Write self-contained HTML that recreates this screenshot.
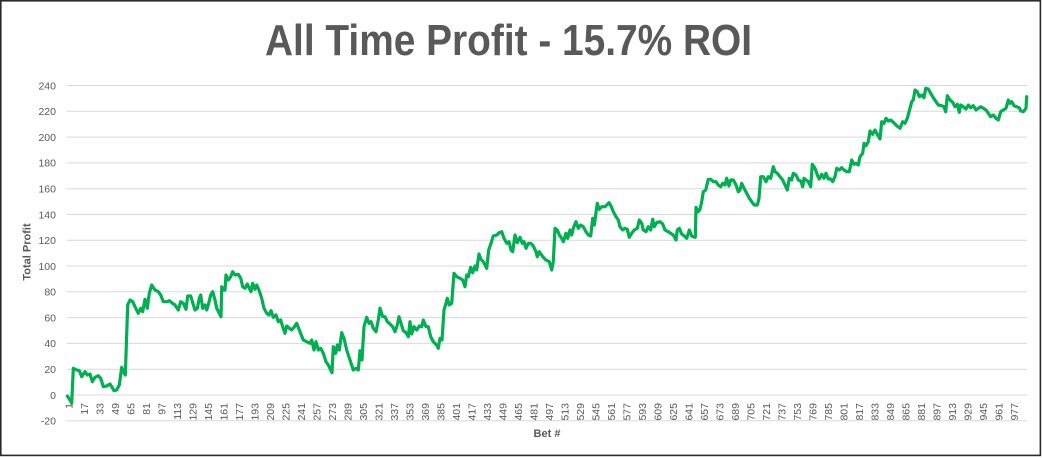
<!DOCTYPE html>
<html>
<head>
<meta charset="utf-8">
<style>
html,body{margin:0;padding:0;background:#fff;}
svg{display:block;}
</style>
</head>
<body>
<svg width="1042" height="458" viewBox="0 0 1042 458" xmlns="http://www.w3.org/2000/svg">
<rect x="0" y="0" width="1042" height="458" fill="#fff"/>
<rect x="0.8" y="0.8" width="1039.6" height="454.6" fill="none" stroke="#2b2b2b" stroke-width="1.6"/>

<text x="265" y="55" font-family="'Liberation Sans', sans-serif" font-weight="bold" font-size="44" fill="#595959" textLength="487" lengthAdjust="spacingAndGlyphs">All Time Profit - 15.7% ROI</text>

<g stroke="#D9D9D9" stroke-width="1">
<line x1="66.7" x2="1027" y1="85.5" y2="85.5"/>
<line x1="66.7" x2="1027" y1="111.3" y2="111.3"/>
<line x1="66.7" x2="1027" y1="137.1" y2="137.1"/>
<line x1="66.7" x2="1027" y1="162.9" y2="162.9"/>
<line x1="66.7" x2="1027" y1="188.7" y2="188.7"/>
<line x1="66.7" x2="1027" y1="214.5" y2="214.5"/>
<line x1="66.7" x2="1027" y1="240.2" y2="240.2"/>
<line x1="66.7" x2="1027" y1="266.0" y2="266.0"/>
<line x1="66.7" x2="1027" y1="291.8" y2="291.8"/>
<line x1="66.7" x2="1027" y1="317.6" y2="317.6"/>
<line x1="66.7" x2="1027" y1="343.4" y2="343.4"/>
<line x1="66.7" x2="1027" y1="369.2" y2="369.2"/>
<line x1="66.7" x2="1027" y1="395.0" y2="395.0"/>
<line x1="66.7" x2="1027" y1="420.8" y2="420.8"/>
</g>

<g font-family="'Liberation Sans', sans-serif" font-size="10.5" fill="#595959" text-anchor="end">
<text x="56" y="89.3">240</text>
<text x="56" y="115.1">220</text>
<text x="56" y="140.9">200</text>
<text x="56" y="166.7">180</text>
<text x="56" y="192.5">160</text>
<text x="56" y="218.3">140</text>
<text x="56" y="244.0">120</text>
<text x="56" y="269.8">100</text>
<text x="56" y="295.6">80</text>
<text x="56" y="321.4">60</text>
<text x="56" y="347.2">40</text>
<text x="56" y="373.0">20</text>
<text x="56" y="398.8">0</text>
<text x="56" y="424.6">-20</text>
</g>

<text transform="translate(30.5,252) rotate(-90)" text-anchor="middle" font-family="'Liberation Sans', sans-serif" font-weight="bold" font-size="11" fill="#595959">Total Profit</text>
<text x="547" y="437" text-anchor="middle" font-family="'Liberation Sans', sans-serif" font-weight="bold" font-size="11" fill="#595959">Bet #</text>

<g font-family="'Liberation Sans', sans-serif" font-size="10.5" fill="#595959" text-anchor="end" dominant-baseline="central">
<text transform="translate(69.5,403) rotate(-90)">1</text>
<text transform="translate(85,403) rotate(-90)">17</text>
<text transform="translate(100.5,403) rotate(-90)">33</text>
<text transform="translate(116,403) rotate(-90)">49</text>
<text transform="translate(131.5,403) rotate(-90)">65</text>
<text transform="translate(147,403) rotate(-90)">81</text>
<text transform="translate(162.5,403) rotate(-90)">97</text>
<text transform="translate(178,403) rotate(-90)">113</text>
<text transform="translate(193.5,403) rotate(-90)">129</text>
<text transform="translate(209,403) rotate(-90)">145</text>
<text transform="translate(224.5,403) rotate(-90)">161</text>
<text transform="translate(240,403) rotate(-90)">177</text>
<text transform="translate(255.5,403) rotate(-90)">193</text>
<text transform="translate(271,403) rotate(-90)">209</text>
<text transform="translate(286.5,403) rotate(-90)">225</text>
<text transform="translate(302,403) rotate(-90)">241</text>
<text transform="translate(317.5,403) rotate(-90)">257</text>
<text transform="translate(333,403) rotate(-90)">273</text>
<text transform="translate(348.5,403) rotate(-90)">289</text>
<text transform="translate(364,403) rotate(-90)">305</text>
<text transform="translate(379.5,403) rotate(-90)">321</text>
<text transform="translate(395,403) rotate(-90)">337</text>
<text transform="translate(410.5,403) rotate(-90)">353</text>
<text transform="translate(426,403) rotate(-90)">369</text>
<text transform="translate(441.5,403) rotate(-90)">385</text>
<text transform="translate(457,403) rotate(-90)">401</text>
<text transform="translate(472.5,403) rotate(-90)">417</text>
<text transform="translate(488,403) rotate(-90)">433</text>
<text transform="translate(503.5,403) rotate(-90)">449</text>
<text transform="translate(519,403) rotate(-90)">465</text>
<text transform="translate(534.5,403) rotate(-90)">481</text>
<text transform="translate(550,403) rotate(-90)">497</text>
<text transform="translate(565.5,403) rotate(-90)">513</text>
<text transform="translate(581,403) rotate(-90)">529</text>
<text transform="translate(596.5,403) rotate(-90)">545</text>
<text transform="translate(612,403) rotate(-90)">561</text>
<text transform="translate(627.5,403) rotate(-90)">577</text>
<text transform="translate(643,403) rotate(-90)">593</text>
<text transform="translate(658.5,403) rotate(-90)">609</text>
<text transform="translate(674,403) rotate(-90)">625</text>
<text transform="translate(689.5,403) rotate(-90)">641</text>
<text transform="translate(705,403) rotate(-90)">657</text>
<text transform="translate(720.5,403) rotate(-90)">673</text>
<text transform="translate(736,403) rotate(-90)">689</text>
<text transform="translate(751.5,403) rotate(-90)">705</text>
<text transform="translate(767,403) rotate(-90)">721</text>
<text transform="translate(782.5,403) rotate(-90)">737</text>
<text transform="translate(798,403) rotate(-90)">753</text>
<text transform="translate(813.5,403) rotate(-90)">769</text>
<text transform="translate(829,403) rotate(-90)">785</text>
<text transform="translate(844.5,403) rotate(-90)">801</text>
<text transform="translate(860,403) rotate(-90)">817</text>
<text transform="translate(875.5,403) rotate(-90)">833</text>
<text transform="translate(891,403) rotate(-90)">849</text>
<text transform="translate(906.5,403) rotate(-90)">865</text>
<text transform="translate(922,403) rotate(-90)">881</text>
<text transform="translate(937.5,403) rotate(-90)">897</text>
<text transform="translate(953,403) rotate(-90)">913</text>
<text transform="translate(968.5,403) rotate(-90)">929</text>
<text transform="translate(984,403) rotate(-90)">945</text>
<text transform="translate(999.5,403) rotate(-90)">961</text>
<text transform="translate(1015,403) rotate(-90)">977</text>
</g>

<polyline fill="none" stroke="#00B050" stroke-width="3.2" stroke-linejoin="round" stroke-linecap="round" points="
67.3,396 70,400 71.7,403.3 73.3,368.3 76.7,370 79.3,370.7 81.7,376.7 85,371.7 87.3,375 90,374 92.3,381.7 95,377.3 98.3,375.7 100.7,378.3 103.3,386.7 106.7,386 110,384 111.7,386.7 114,390.7 116.7,390 119.3,385 121.7,367.3 123.3,371.7 125.3,375 127.7,305 130,300 132.7,301.7 135,306.7 138.3,313.3 140.7,308.3 142.7,311.7 145,299.3 147.3,308.3 149.3,293.3 151.7,285 155,290 158.3,291.7 160.7,295 163.3,301.7 166.7,301.7 169.3,300.7 171.7,302.7 175,305 178.3,310 180.7,301.7 183.3,303.3 186,309.3 187.7,296 190.7,296 192.7,302.7 195,310 197.3,308.3 199.3,298.3 200.7,295 202.7,308.3 205,305 206.7,310 208.7,303.3 210.7,295 212.7,291.7 215,300 216.7,308.3 219.3,313.3 221,316.7 221.7,286.7 223.3,290 225,290 226,275 228.3,280 230.7,276.7 232.7,271.7 235,275 238.3,274.3 240.7,278.3 242.7,286.7 245,288.3 247.3,284 249.3,288.3 251,291.7 252.7,283.3 255,289.3 256.7,285 259,290 261.7,298.3 264,308.3 266.7,313.3 269,315 271,310.7 273.3,317.3 276,315 278.3,321.7 280.7,320 282.7,326.7 285,333.3 286.7,326 289.3,328.3 291.7,330 294,327.3 296.7,323.3 299.3,330
303.3,340 306.7,341.7 310,343.3 311.7,340 314,350 316,341.7 318.3,350 320.7,348.3 323.3,353.3 326,361.7 328.3,365 330.7,370 332,372.7 333.3,346.7 335.7,353.3 337.3,345 339.3,350 341.7,332.7 344,338.3 346.7,350 350,360 353.3,370 356,368.3 358.3,370 360,350.7 362,360 364,326.7 366.7,317.3 369,323.3 371,321.7 373.3,328.3 376,331.7 378.3,320 380,308.3 382.7,316.7 385,316.7 387.3,321.7 390,324 392.7,326.7 395,331.7 397.3,325 399,316.7 401,323.3 403.3,330.7 406,332.7 408.3,336.7 410,321.7 411.7,334 414,326.7 416.7,330 419.3,326 421.7,326.7 423.3,320 426,326.7 428.3,326.7 430.7,336.7 433.3,341.7 436.7,345 438.3,348.3 440,338.3 442,340 444,310 446,303.3 447.3,298.3 449.3,305 451.7,303.3 454,273.3 456.7,276.7 460,278.3 462.7,280 465,286.7 466.7,275 468.3,276.7 470.7,267.3 472.7,272.7 475,266 476.7,270 479,254 481,259.3 483.3,261.7 486.7,268.3 488.7,250 491,243.3 493.3,236 496.7,235 499.3,232.7 501.7,231.7 504,238.3 506.7,243.3 509,241.7 511,250 512.7,251.7 515,235 517.3,242.7 520,237.3 522.3,243.3 524,241.7 526,248.3 528.3,243.3 530.7,243.3 533.3,246 536,251.7 537.3,256.7 539.3,251.7 542.7,256.7 546,260 549.3,261.7 551.7,270 553.3,261.7
555,228.3 557.3,230 559.3,235 561.7,238.3 563.3,241.7 566,233.3 567.7,238.3 570,230 571.7,235 573.3,228.3 576,221.7 578.3,228.3 580.7,225 583.3,226.7 586,231.7 588.3,235 590.7,236 592.7,218.3 594.3,225 597.3,203.3 599.3,209.3 601.7,206.7 605,206.7 606.7,205 609,202.7 611,206 613.3,211.7 616,216.7 618.3,220 620,226.7 622.7,230 625,228.3 627.3,229.3 629.3,237.3 631.7,233.3 634.3,230 637.3,228.3 639.3,220 641.7,223.3 643.3,230 646,231.7 648.3,226.7 650.7,230 652.7,219.3 654.3,226.7 656.7,222.7 660,221.7 662.7,224 665,230 668.3,231.7 670.7,233.3 673.3,235 676,240 677.3,230 679.3,228.3 681.7,234 684.3,236 686.7,238.3 689.3,230 691.7,236 693.3,236.7 695.3,237.3 696,207.3 698.3,211.7 700,209.3 701.7,201.7 703.3,191.7 705.7,190 708.3,179.3 710.7,179.3 713.3,181.7 716,181.7 718.3,185 720.7,186.7 722.7,183.3 725,185 726.7,178.3 729,186 730.7,180 733.3,180 736,185 738.3,191.7 740,190 741.7,183.3 744,188.3 746.7,193.3 749.3,198.3 751.7,201.7 754.3,205 757.3,205 759,198.3 760.7,176.7 763.3,176.7 766,181.7 768.3,176.7 770.7,178.3 773.3,166.7 775,171.7 777.3,173.3 780,176.7
782.7,180 785,185 787.3,190 789.3,178.3 791.7,180 793.3,173.3 796,175 798.3,180 800.7,181 802.7,186.7 804,178.3 806,180 808.3,181.7 810.7,186.7 812.3,164.3 815,168.3 817.3,175 819.3,179 821.7,174.3 824,178.3 826,173.3 828.3,179 830.7,179 832.7,181.7 835,176.7 836.7,168.3 839.3,170 841.7,167.7 844,170 846.7,171.7 849.3,171.7 851.7,160 854,164.3 856,163.3 858.3,165 860,156.7 862.7,153.3 864,143.3 866,145.7 868.3,141.7 870,131 872.7,134.3 875,130 877.3,134.3 880,139 881.7,121.7 884,123.3 886,118.3 888.3,121 890.7,120 893.3,122.3 896.7,125.7 900,128.3 902.7,121.7 905,123.3 907.3,118.3 910,108.3 911.7,101.7 913.3,100 915,90 917.3,91.7 919.3,96.7 921.7,95 924,97.7 925.7,88.3 928.3,89 930.7,93.3 933.3,97.7 936,101.7 938.3,105 941.7,105.7 944,106.7 945.7,111.7 947.3,95.7 950,100 952.7,102.3 955,106.7 957.3,104.3 959.3,112.3 960.7,105 963.3,106.7 966,109 968.3,105 970.7,107.7 973.3,105.7 976,110 978.3,108.3 980.7,106.7 983.3,108.3 986,110 988.3,113.3 990.7,116.7 993.3,115 996,118.3 998.3,120 1000.7,111.7 1003.3,110 1006,108.3 1008.3,100 1010,103.3 1011.7,101.7 1014,105.7 1016.7,106.7 1019.3,107.7 1020.7,111 1023.3,111.7 1026,108.3 1026.7,96.7"/>
</svg>
</body>
</html>
